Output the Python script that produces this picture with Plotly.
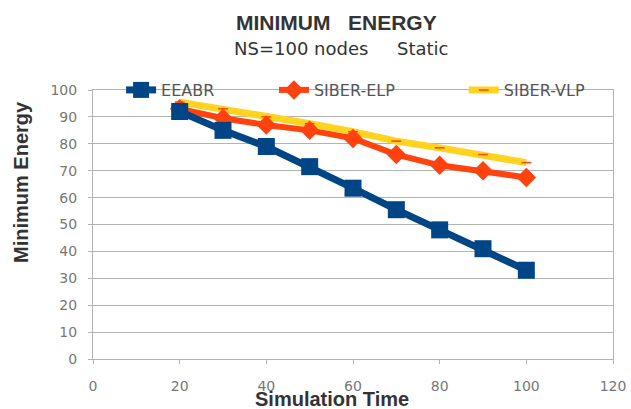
import plotly.graph_objects as go

sim_time = [20, 30, 40, 50, 60, 70, 80, 90, 100]
eeabr = [92, 85, 79, 71.5, 63.5, 55.5, 48, 41, 33]
siber_elp = [93, 89.5, 87, 85, 82, 76, 72, 70, 67.5]
siber_vlp = [95.5, 93, 90, 87.5, 84.5, 81, 78.5, 76, 73]

x_ticks = [0, 20, 40, 60, 80, 100, 120]
y_ticks = [0, 10, 20, 30, 40, 50, 60, 70, 80, 90, 100]

BLUE = "#004586"
RED = "#FF420E"
YEL = "#FFD320"
FONT = "Liberation Sans, Arial, sans-serif"
WIDE = "DejaVu Sans, Verdana, sans-serif"

fig = go.Figure()
fig.add_trace(go.Scatter(x=sim_time, y=siber_vlp, name="SIBER-VLP", mode="lines+markers",
                         legend="legend3",
                         line=dict(color=YEL, width=7),
                         marker=dict(symbol="line-ew-open", size=7, color=RED, line=dict(width=1.5, color=RED))))
fig.add_trace(go.Scatter(x=sim_time, y=siber_elp, name="SIBER-ELP", mode="lines+markers",
                         legend="legend2",
                         line=dict(color=RED, width=6),
                         marker=dict(symbol="diamond", size=15, color=RED)))
fig.add_trace(go.Scatter(x=sim_time, y=eeabr, name="EEABR", mode="lines+markers",
                         legend="legend",
                         line=dict(color=BLUE, width=7),
                         marker=dict(symbol="square", size=17, color=BLUE)))

leg_common = dict(orientation="h", y=1.0, xanchor="left", yanchor="middle",
                  bgcolor="rgba(0,0,0,0)", itemwidth=30,
                  font=dict(family=WIDE, size=16, color="#555555"))

fig.update_layout(
    width=631, height=409,
    margin=dict(l=93, r=18, t=90, b=50, autoexpand=False),
    paper_bgcolor="white", plot_bgcolor="white",
    font=dict(family=WIDE, color="#777777", size=14),
    showlegend=True,
    legend=dict(x=0.054, **leg_common),
    legend2=dict(x=0.348, **leg_common),
    legend3=dict(x=0.713, **leg_common),
    xaxis=dict(range=[0, 120], tickvals=x_ticks, showgrid=False, zeroline=False, automargin=False,
               showline=True, linecolor="#b3b3b3", linewidth=1, mirror=True,
               ticks="outside", ticklen=4, tickcolor="#b3b3b3", ticklabelstandoff=10,
               tickfont=dict(family=WIDE, size=14, color="#777777")),
    yaxis=dict(range=[0, 100], tickvals=y_ticks, showgrid=True, gridcolor="#b3b3b3", gridwidth=1,
               zeroline=False, showline=True, linecolor="#b3b3b3", linewidth=1, mirror=True,
               automargin=False,
               ticks="outside", ticklen=4, tickcolor="#b3b3b3", ticklabelstandoff=8,
               tickfont=dict(family=WIDE, size=14, color="#777777")),
    annotations=[
        dict(text="<b>MINIMUM   ENERGY</b>", xref="paper", yref="paper", x=(336 - 93) / 520, y=1.0,
             yshift=68, showarrow=False, font=dict(family=FONT, size=21, color="#333333"),
             xanchor="center", yanchor="middle"),
        dict(text="NS=100 nodes     Static", xref="paper", yref="paper", x=(341 - 93) / 520, y=1.0,
             yshift=42, showarrow=False, font=dict(family=WIDE, size=18, color="#333333"),
             xanchor="center", yanchor="middle"),
        dict(text="<b>Simulation Time</b>", xref="paper", yref="paper", x=(332 - 93) / 520, y=0.0,
             yshift=-40, showarrow=False, font=dict(family=FONT, size=20, color="#333333"),
             xanchor="center", yanchor="middle"),
        dict(text="<b>Minimum Energy</b>", xref="paper", yref="paper", x=0.0, y=(359 - 182) / 269,
             xshift=-72, showarrow=False, textangle=-90,
             font=dict(family=FONT, size=20, color="#333333"),
             xanchor="center", yanchor="middle"),
    ],
)

fig.write_html("out.html")
